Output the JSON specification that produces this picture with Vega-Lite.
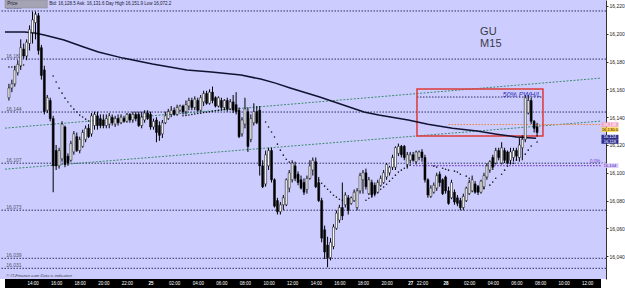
{
 "$schema": "https://vega.github.io/schema/vega-lite/v6.json",
 "width": 606, "height": 279,
 "autosize": {"type": "none"},
 "padding": {"left": 0, "top": 0, "right": 19, "bottom": 9},
 "background": "white",
 "config": {"view": {"fill": "#ccccff", "stroke": null}, "font": "Liberation Sans"},
 "resolve": {"axis": {"x": "independent", "y": "independent"}},
 "datasets": {
  "candles": [
{"i":0,"o":16154,"h":16164,"l":16152,"c":16161},{"i":1,"o":16161,"h":16167,"l":16158,"c":16164},{"i":2,"o":16164,"h":16177,"l":16162,"c":16174},{"i":3,"o":16172,"h":16181,"l":16170,"c":16178},{"i":4,"o":16177,"h":16196,"l":16174,"c":16190},{"i":5,"o":16189,"h":16193,"l":16182,"c":16184},{"i":6,"o":16184,"h":16196,"l":16181,"c":16194},{"i":7,"o":16193,"h":16206,"l":16188,"c":16203},{"i":8,"o":16201,"h":16216,"l":16193,"c":16210},{"i":9,"o":16208,"h":16216,"l":16196,"c":16214},
{"i":10,"o":16213,"h":16215,"l":16185,"c":16188},{"i":11,"o":16190,"h":16192,"l":16167,"c":16170},{"i":12,"o":16174,"h":16177,"l":16142,"c":16144},{"i":13,"o":16145,"h":16156,"l":16143,"c":16154},{"i":14,"o":16152,"h":16154,"l":16137,"c":16139},{"i":15,"o":16139,"h":16141,"l":16086,"c":16105},{"i":16,"o":16116,"h":16120,"l":16102,"c":16105},{"i":17,"o":16105,"h":16118,"l":16103,"c":16116},{"i":18,"o":16110,"h":16137,"l":16108,"c":16135},{"i":19,"o":16133,"h":16134,"l":16104,"c":16106},
{"i":20,"o":16112,"h":16114,"l":16105,"c":16107},{"i":21,"o":16109,"h":16123,"l":16108,"c":16121},{"i":22,"o":16115,"h":16130,"l":16113,"c":16128},{"i":23,"o":16126,"h":16129,"l":16115,"c":16116},{"i":24,"o":16116,"h":16126,"l":16114,"c":16124},{"i":25,"o":16119,"h":16131,"l":16118,"c":16129},{"i":26,"o":16124,"h":16134,"l":16122,"c":16132},{"i":27,"o":16132,"h":16135,"l":16125,"c":16126},{"i":28,"o":16128,"h":16143,"l":16126,"c":16141},{"i":29,"o":16134,"h":16144,"l":16131,"c":16142},
{"i":30,"o":16141,"h":16144,"l":16131,"c":16134},{"i":31,"o":16139,"h":16142,"l":16132,"c":16134},{"i":32,"o":16138,"h":16142,"l":16132,"c":16134},{"i":33,"o":16134,"h":16142,"l":16132,"c":16139},{"i":34,"o":16135,"h":16143,"l":16132,"c":16141},{"i":35,"o":16140,"h":16142,"l":16134,"c":16136},{"i":36,"o":16135,"h":16141,"l":16133,"c":16139},{"i":37,"o":16139,"h":16142,"l":16134,"c":16136},{"i":38,"o":16136,"h":16142,"l":16135,"c":16140},{"i":39,"o":16139,"h":16141,"l":16136,"c":16137},
{"i":40,"o":16137,"h":16143,"l":16136,"c":16142},{"i":41,"o":16142,"h":16143,"l":16136,"c":16138},{"i":42,"o":16138,"h":16144,"l":16136,"c":16142},{"i":43,"o":16142,"h":16144,"l":16137,"c":16139},{"i":44,"o":16142,"h":16144,"l":16133,"c":16134},{"i":45,"o":16134,"h":16144,"l":16132,"c":16140},{"i":46,"o":16138,"h":16145,"l":16136,"c":16143},{"i":47,"o":16143,"h":16145,"l":16138,"c":16139},{"i":48,"o":16142,"h":16144,"l":16131,"c":16133},{"i":49,"o":16133,"h":16139,"l":16131,"c":16137},
{"i":50,"o":16138,"h":16140,"l":16122,"c":16129},{"i":51,"o":16134,"h":16137,"l":16123,"c":16127},{"i":52,"o":16128,"h":16138,"l":16125,"c":16136},{"i":53,"o":16136,"h":16144,"l":16135,"c":16141},{"i":54,"o":16139,"h":16146,"l":16138,"c":16144},{"i":55,"o":16142,"h":16148,"l":16140,"c":16145},{"i":56,"o":16145,"h":16147,"l":16141,"c":16142},{"i":57,"o":16142,"h":16149,"l":16141,"c":16147},{"i":58,"o":16145,"h":16149,"l":16144,"c":16148},{"i":59,"o":16148,"h":16149,"l":16142,"c":16144},
{"i":60,"o":16144,"h":16152,"l":16142,"c":16149},{"i":61,"o":16148,"h":16154,"l":16145,"c":16152},{"i":62,"o":16152,"h":16154,"l":16145,"c":16147},{"i":63,"o":16147,"h":16155,"l":16145,"c":16153},{"i":64,"o":16152,"h":16154,"l":16144,"c":16145},{"i":65,"o":16145,"h":16156,"l":16144,"c":16154},{"i":66,"o":16151,"h":16159,"l":16148,"c":16157},{"i":67,"o":16157,"h":16159,"l":16149,"c":16150},{"i":68,"o":16150,"h":16160,"l":16149,"c":16158},{"i":69,"o":16158,"h":16162,"l":16150,"c":16152},
{"i":70,"o":16154,"h":16155,"l":16147,"c":16148},{"i":71,"o":16148,"h":16155,"l":16147,"c":16154},{"i":72,"o":16152,"h":16154,"l":16145,"c":16147},{"i":73,"o":16147,"h":16153,"l":16145,"c":16152},{"i":74,"o":16152,"h":16154,"l":16144,"c":16146},{"i":75,"o":16146,"h":16153,"l":16145,"c":16151},{"i":76,"o":16151,"h":16156,"l":16143,"c":16145},{"i":77,"o":16149,"h":16158,"l":16142,"c":16144},{"i":78,"o":16145,"h":16147,"l":16125,"c":16126},{"i":79,"o":16128,"h":16140,"l":16126,"c":16138},
{"i":80,"o":16135,"h":16154,"l":16132,"c":16146},{"i":81,"o":16144,"h":16147,"l":16115,"c":16119},{"i":82,"o":16124,"h":16142,"l":16122,"c":16139},{"i":83,"o":16136,"h":16150,"l":16134,"c":16144},{"i":84,"o":16144,"h":16148,"l":16135,"c":16136},{"i":85,"o":16145,"h":16148,"l":16098,"c":16105},{"i":86,"o":16105,"h":16109,"l":16089,"c":16090},{"i":87,"o":16092,"h":16116,"l":16090,"c":16113},{"i":88,"o":16105,"h":16118,"l":16102,"c":16116},{"i":89,"o":16116,"h":16118,"l":16093,"c":16095},
{"i":90,"o":16095,"h":16096,"l":16075,"c":16076},{"i":91,"o":16080,"h":16082,"l":16070,"c":16072},{"i":92,"o":16072,"h":16079,"l":16070,"c":16077},{"i":93,"o":16077,"h":16084,"l":16073,"c":16082},{"i":94,"o":16077,"h":16096,"l":16076,"c":16095},{"i":95,"o":16089,"h":16102,"l":16086,"c":16100},{"i":96,"o":16095,"h":16109,"l":16093,"c":16107},{"i":97,"o":16105,"h":16108,"l":16094,"c":16096},{"i":98,"o":16099,"h":16101,"l":16091,"c":16093},{"i":99,"o":16095,"h":16098,"l":16088,"c":16089},
{"i":100,"o":16093,"h":16096,"l":16084,"c":16086},{"i":101,"o":16088,"h":16098,"l":16085,"c":16096},{"i":102,"o":16096,"h":16109,"l":16095,"c":16105},{"i":103,"o":16102,"h":16111,"l":16098,"c":16109},{"i":104,"o":16108,"h":16111,"l":16089,"c":16090},{"i":105,"o":16093,"h":16097,"l":16079,"c":16080},{"i":106,"o":16080,"h":16082,"l":16050,"c":16053},{"i":107,"o":16059,"h":16062,"l":16038,"c":16043},{"i":108,"o":16048,"h":16054,"l":16032,"c":16039},{"i":109,"o":16039,"h":16053,"l":16037,"c":16050},
{"i":110,"o":16047,"h":16063,"l":16045,"c":16061},{"i":111,"o":16060,"h":16073,"l":16059,"c":16071},{"i":112,"o":16066,"h":16077,"l":16064,"c":16075},{"i":113,"o":16075,"h":16093,"l":16066,"c":16069},{"i":114,"o":16077,"h":16086,"l":16075,"c":16084},{"i":115,"o":16082,"h":16084,"l":16070,"c":16073},{"i":116,"o":16078,"h":16083,"l":16077,"c":16082},{"i":117,"o":16080,"h":16088,"l":16079,"c":16086},{"i":118,"o":16075,"h":16089,"l":16073,"c":16087},{"i":119,"o":16087,"h":16100,"l":16085,"c":16098},
{"i":120,"o":16095,"h":16102,"l":16085,"c":16100},{"i":121,"o":16100,"h":16103,"l":16088,"c":16090},{"i":122,"o":16085,"h":16097,"l":16084,"c":16095},{"i":123,"o":16093,"h":16095,"l":16082,"c":16084},{"i":124,"o":16091,"h":16093,"l":16083,"c":16085},{"i":125,"o":16086,"h":16095,"l":16085,"c":16093},{"i":126,"o":16091,"h":16098,"l":16090,"c":16096},{"i":127,"o":16093,"h":16102,"l":16092,"c":16100},{"i":128,"o":16097,"h":16107,"l":16095,"c":16106},{"i":129,"o":16100,"h":16105,"l":16098,"c":16104},
{"i":130,"o":16104,"h":16113,"l":16102,"c":16111},{"i":131,"o":16104,"h":16119,"l":16102,"c":16118},{"i":132,"o":16114,"h":16121,"l":16112,"c":16119},{"i":133,"o":16119,"h":16120,"l":16111,"c":16113},{"i":134,"o":16119,"h":16120,"l":16109,"c":16111},{"i":135,"o":16106,"h":16115,"l":16103,"c":16113},{"i":136,"o":16109,"h":16115,"l":16107,"c":16113},{"i":137,"o":16113,"h":16115,"l":16108,"c":16109},{"i":138,"o":16108,"h":16116,"l":16106,"c":16115},{"i":139,"o":16111,"h":16116,"l":16109,"c":16115},
{"i":140,"o":16115,"h":16117,"l":16108,"c":16111},{"i":141,"o":16111,"h":16113,"l":16093,"c":16095},{"i":142,"o":16095,"h":16096,"l":16082,"c":16084},{"i":143,"o":16083,"h":16091,"l":16082,"c":16089},{"i":144,"o":16086,"h":16093,"l":16085,"c":16091},{"i":145,"o":16089,"h":16100,"l":16087,"c":16098},{"i":146,"o":16099,"h":16101,"l":16090,"c":16093},{"i":147,"o":16095,"h":16096,"l":16084,"c":16085},{"i":148,"o":16097,"h":16098,"l":16085,"c":16087},{"i":149,"o":16087,"h":16090,"l":16077,"c":16078},
{"i":150,"o":16082,"h":16095,"l":16081,"c":16093},{"i":151,"o":16086,"h":16088,"l":16077,"c":16079},{"i":152,"o":16082,"h":16084,"l":16076,"c":16078},{"i":153,"o":16080,"h":16082,"l":16073,"c":16075},{"i":154,"o":16075,"h":16085,"l":16073,"c":16083},{"i":155,"o":16080,"h":16090,"l":16079,"c":16089},{"i":156,"o":16085,"h":16095,"l":16084,"c":16093},{"i":157,"o":16087,"h":16098,"l":16086,"c":16095},{"i":158,"o":16092,"h":16094,"l":16085,"c":16086},{"i":159,"o":16090,"h":16091,"l":16084,"c":16086},
{"i":160,"o":16086,"h":16095,"l":16085,"c":16094},{"i":161,"o":16090,"h":16100,"l":16088,"c":16098},{"i":162,"o":16097,"h":16107,"l":16095,"c":16105},{"i":163,"o":16102,"h":16109,"l":16100,"c":16108},{"i":164,"o":16111,"h":16113,"l":16102,"c":16104},{"i":165,"o":16107,"h":16118,"l":16106,"c":16116},{"i":166,"o":16116,"h":16118,"l":16109,"c":16111},{"i":167,"o":16107,"h":16122,"l":16106,"c":16118},{"i":168,"o":16116,"h":16118,"l":16107,"c":16109},{"i":169,"o":16115,"h":16116,"l":16106,"c":16107},
{"i":170,"o":16109,"h":16118,"l":16106,"c":16115},{"i":171,"o":16111,"h":16118,"l":16108,"c":16116},{"i":172,"o":16116,"h":16118,"l":16109,"c":16112},{"i":173,"o":16111,"h":16125,"l":16108,"c":16120},{"i":174,"o":16118,"h":16127,"l":16109,"c":16124},{"i":175,"o":16124,"h":16156,"l":16122,"c":16154},{"i":176,"o":16143,"h":16156,"l":16142,"c":16152},{"i":177,"o":16152,"h":16154,"l":16135,"c":16137},{"i":178,"o":16137,"h":16138,"l":16129,"c":16132},{"i":179,"o":16133,"h":16136,"l":16126,"c":16129}
  ],
  "ma": [
{"i":-1.33,"p":16201.3},{"i":5.33,"p":16201.3},{"i":8.67,"p":16200.5},{"i":12,"p":16199.1},{"i":18.67,"p":16195.5},{"i":25.33,"p":16190.5},{"i":30.33,"p":16186.9},{"i":38.67,"p":16182.5},{"i":48.67,"p":16178.2},{"i":60.33,"p":16173.9},{"i":68.67,"p":16172.5},{"i":78.67,"p":16170.3},{"i":85.33,"p":16167.4},{"i":90.33,"p":16164.5},{"i":95.33,"p":16161.0},{"i":105.33,"p":16154.5},{"i":110.33,"p":16150.9},{"i":120.33,"p":16143.7},{"i":125.33,"p":16141.5},{"i":135.33,"p":16137.9},{"i":142,"p":16135.0},{"i":150.33,"p":16132.1},{"i":158.67,"p":16130.0},{"i":165.33,"p":16127.8},{"i":172,"p":16125.7},{"i":178.67,"p":16124.9}
  ],
  "sar": [
{"i":0,"s":16176.1},{"i":1,"s":16176.1},{"i":2,"s":16176.1},{"i":3,"s":16176.8},{"i":4,"s":16176.8},{"i":5,"s":16177.5},
{"i":15,"s":16169.6},{"i":16,"s":16165.3},{"i":17,"s":16160.9},{"i":18,"s":16157.3},{"i":19,"s":16153.7},{"i":20,"s":16150.9},{"i":21,"s":16148.0},{"i":22,"s":16145.8},{"i":23,"s":16143.7},{"i":24,"s":16141.5},{"i":25,"s":16140.1},{"i":26,"s":16138.6},{"i":27,"s":16137.2},{"i":28,"s":16136.5},{"i":29,"s":16135.7},
{"i":31,"s":16135.0},{"i":32,"s":16135.7},{"i":33,"s":16135.7},{"i":34,"s":16136.5},{"i":35,"s":16136.5},{"i":36,"s":16137.2},{"i":37,"s":16137.9},{"i":38,"s":16137.9},{"i":39,"s":16138.6},{"i":40,"s":16138.6},{"i":41,"s":16139.3},{"i":42,"s":16139.3},{"i":43,"s":16140.1},
{"i":59,"s":16141.0},{"i":60,"s":16141.3},{"i":61,"s":16141.6},{"i":62,"s":16141.9},{"i":63,"s":16142.3},{"i":64,"s":16142.6},{"i":65,"s":16142.9},{"i":66,"s":16143.3},{"i":67,"s":16143.6},{"i":68,"s":16143.9},{"i":69,"s":16144.2},{"i":70,"s":16144.6},{"i":71,"s":16144.9},{"i":72,"s":16145.2},{"i":73,"s":16145.5},{"i":74,"s":16145.9},{"i":75,"s":16146.2},{"i":76,"s":16146.5},
{"i":87,"s":16136.5},{"i":88,"s":16132.9},{"i":89,"s":16129.3},{"i":90,"s":16125.7},{"i":91,"s":16120.6},{"i":92,"s":16116.3},{"i":93,"s":16112.7},{"i":94,"s":16109.8},{"i":95,"s":16107.7},
{"i":105,"s":16094.7},{"i":106,"s":16092.5},{"i":107,"s":16090.4},{"i":108,"s":16088.2},{"i":109,"s":16086.1},{"i":110,"s":16083.9},{"i":111,"s":16082.5},{"i":112,"s":16081.0},{"i":113,"s":16080.3},
{"i":121,"s":16080.3},{"i":122,"s":16081.7},{"i":123,"s":16083.2},{"i":124,"s":16084.6},{"i":125,"s":16086.1},{"i":126,"s":16088.2},{"i":127,"s":16089.7},{"i":128,"s":16091.8},{"i":129,"s":16094.0},{"i":130,"s":16096.1},{"i":131,"s":16098.3},{"i":132,"s":16100.5},{"i":133,"s":16101.9},{"i":134,"s":16103.3},{"i":135,"s":16104.8},{"i":136,"s":16105.5},
{"i":144,"s":16104.8},{"i":145,"s":16104.1},{"i":147,"s":16103.3},{"i":148,"s":16102.6},{"i":149,"s":16101.9},{"i":151,"s":16101.2},{"i":152,"s":16100.5},{"i":153,"s":16099.0},{"i":155,"s":16097.6},{"i":156,"s":16096.1},{"i":157,"s":16093.3},{"i":159,"s":16090.4},
{"i":160,"s":16087.5},{"i":161,"s":16088.9},{"i":163,"s":16091.1},{"i":164,"s":16093.3},{"i":165,"s":16096.1},{"i":167,"s":16099.0},{"i":168,"s":16101.9},{"i":169,"s":16104.8},{"i":171,"s":16106.9},{"i":172,"s":16109.1},{"i":173,"s":16111.3},{"i":175,"s":16113.4},{"i":176,"s":16116.3},{"i":177,"s":16119.2},{"i":179,"s":16122.1}
  ],
  "pivots": [
{"p":16216.4,"t":"16,216"},{"p":16181.8,"t":"16,182"},{"p":16143.7,"t":"16,144"},{"p":16106.9,"t":"16,107"},{"p":16073.1,"t":"16,073"},{"p":16038.5,"t":"16,039"},{"p":16031.3,"t":"16,031"}
  ],
  "tags": [
{"i":203.7,"p":16134.7,"t":"16,138","k":"a"},{"i":203.7,"p":16131.1,"t":"16,130.0","k":"b"},{"i":203.7,"p":16125.7,"t":"16,124","k":"c"},{"i":203.7,"p":16122.5,"t":"16,118","k":"c"},{"i":203.7,"p":16105.2,"t":"16,104","k":"d"}
  ]
 },
 "layer": [
  {"data": {"name": "pivots"}, "mark": {"type": "rule", "color": "#2e2e60", "strokeDash": [1.5, 1.5], "strokeWidth": 1},
   "encoding": {"y": {"field": "p", "type": "quantitative", "scale": {"domain": [16023.6, 16224.3], "nice": false, "zero": false}, "axis": null}}},
  {"data": {"name": "pivots"}, "mark": {"type": "text", "align": "left", "baseline": "bottom", "fontSize": 5, "color": "#555566", "dy": -0.5},
   "encoding": {"x": {"datum": -0.9, "type": "quantitative", "scale": {"domain": [-1.33, 200.67], "nice": false, "zero": false}, "axis": null},
    "y": {"field": "p", "type": "quantitative", "scale": {"domain": [16023.6, 16224.3], "nice": false, "zero": false}, "axis": null},
    "text": {"field": "t"}}},
  {"data": {"values": [{"i": -1.33, "i2": 200.67, "p": 16132.1, "p2": 16168.1}, {"i": -1.33, "i2": 200.67, "p": 16102.6, "p2": 16137.2}]},
   "mark": {"type": "rule", "color": "#3c8c6c", "strokeDash": [2, 1.5], "strokeWidth": 1},
   "encoding": {"x": {"field": "i", "type": "quantitative", "scale": {"domain": [-1.33, 200.67], "nice": false, "zero": false}, "axis": null}, "x2": {"field": "i2"},
    "y": {"field": "p", "type": "quantitative", "scale": {"domain": [16023.6, 16224.3], "nice": false, "zero": false}, "axis": null}, "y2": {"field": "p2"}}},
  {"data": {"values": [{"i": 137, "i2": 200.67, "p": 16105.2}]},
   "mark": {"type": "rule", "color": "#7a3cc8", "strokeDash": [1.5, 1.5], "strokeWidth": 1.2},
   "encoding": {"x": {"field": "i", "type": "quantitative", "scale": {"domain": [-1.33, 200.67], "nice": false, "zero": false}, "axis": null}, "x2": {"field": "i2"},
    "y": {"field": "p", "type": "quantitative", "scale": {"domain": [16023.6, 16224.3], "nice": false, "zero": false}, "axis": null}}},
  {"data": {"values": [{"i": 149, "i2": 200.67, "p": 16134.7}]},
   "mark": {"type": "rule", "color": "#f08030", "strokeDash": [1.5, 1.5], "strokeWidth": 1},
   "encoding": {"x": {"field": "i", "type": "quantitative", "scale": {"domain": [-1.33, 200.67], "nice": false, "zero": false}, "axis": null}, "x2": {"field": "i2"},
    "y": {"field": "p", "type": "quantitative", "scale": {"domain": [16023.6, 16224.3], "nice": false, "zero": false}, "axis": null}}},
  {"data": {"values": [{"i": 138.3, "i2": 181, "p": 16154.5}]},
   "mark": {"type": "rule", "color": "#2e2e60", "strokeDash": [1.5, 1.5], "strokeWidth": 1},
   "encoding": {"x": {"field": "i", "type": "quantitative", "scale": {"domain": [-1.33, 200.67], "nice": false, "zero": false}, "axis": null}, "x2": {"field": "i2"},
    "y": {"field": "p", "type": "quantitative", "scale": {"domain": [16023.6, 16224.3], "nice": false, "zero": false}, "axis": null}}},
  {"data": {"values": [{"i": 138.3, "i2": 181, "p": 16160.2, "p2": 16126.4}]},
   "mark": {"type": "rect", "fill": null, "fillOpacity": 0, "stroke": "#dd3a3a", "strokeWidth": 1.5},
   "encoding": {"x": {"field": "i", "type": "quantitative", "scale": {"domain": [-1.33, 200.67], "nice": false, "zero": false}, "axis": null}, "x2": {"field": "i2"},
    "y": {"field": "p", "type": "quantitative", "scale": {"domain": [16023.6, 16224.3], "nice": false, "zero": false}, "axis": null}, "y2": {"field": "p2"}}},
  {"data": {"name": "ma"}, "mark": {"type": "line", "color": "#121230", "strokeWidth": 1.5},
   "encoding": {"x": {"field": "i", "type": "quantitative", "scale": {"domain": [-1.33, 200.67], "nice": false, "zero": false}, "axis": null},
    "y": {"field": "p", "type": "quantitative", "scale": {"domain": [16023.6, 16224.3], "nice": false, "zero": false}, "axis": null}}},
  {"data": {"name": "sar"}, "mark": {"type": "point", "filled": true, "size": 2.5, "color": "#111111", "opacity": 1},
   "encoding": {"x": {"field": "i", "type": "quantitative", "scale": {"domain": [-1.33, 200.67], "nice": false, "zero": false}, "axis": null},
    "y": {"field": "s", "type": "quantitative", "scale": {"domain": [16023.6, 16224.3], "nice": false, "zero": false}, "axis": null}}},
  {"data": {"values": [{"i": -1.33, "i2": 200.67, "p": 16023.6, "p2": 16017.1}]},
   "mark": {"type": "rect", "fill": "#000000"},
   "encoding": {"x": {"field": "i", "type": "quantitative", "scale": {"domain": [-1.33, 200.67], "nice": false, "zero": false}, "axis": null}, "x2": {"field": "i2"},
    "y": {"field": "p", "type": "quantitative", "scale": {"domain": [16023.6, 16224.3], "nice": false, "zero": false}, "axis": null}, "y2": {"field": "p2"}}},
  {"data": {"name": "candles"}, "mark": {"type": "rule", "color": "#000000", "strokeWidth": 1},
   "encoding": {
    "x": {"field": "i", "type": "quantitative", "scale": {"domain": [-1.33, 200.67], "nice": false, "zero": false},
     "axis": {"title": null, "grid": false, "zindex": 2, "values": [8,16,24,32,40,48,56,64,72,80,88,96,104,112,120,128,136,140,148,156,164,172,180,188,196],
      "labelExpr": "{'8':'14:00','16':'16:00','24':'18:00','32':'20:00','40':'22:00','48':'25','56':'02:00','64':'04:00','72':'06:00','80':'08:00','88':'10:00','96':'12:00','104':'14:00','112':'16:00','120':'18:00','128':'20:00','136':'27','140':'22:00','148':'28','156':'02:00','164':'04:00','172':'06:00','180':'08:00','188':'10:00','196':'12:00'}[datum.value]",
      "labelColor": "#ffffff", "labelFontSize": 4.5, "ticks": false, "tickSize": 0, "domain": false, "labelPadding": 4.5, "labelBaseline": "middle", "labelOverlap": false, "labelFlush": false,
      "labelFontWeight": {"condition": {"test": "datum.value == 48 || datum.value == 136 || datum.value == 148", "value": "bold"}, "value": "normal"}}},
    "y": {"field": "l", "type": "quantitative", "scale": {"domain": [16023.6, 16224.3], "nice": false, "zero": false},
     "axis": {"title": null, "orient": "right", "grid": false, "values": [16040,16060,16080,16100,16120,16140,16160,16180,16200,16220], "format": ",d",
      "labelFontSize": 5, "labelColor": "#222222", "tickSize": 2, "tickColor": "#333333", "domainColor": "#333333", "domainWidth": 1, "labelPadding": 1}},
    "y2": {"field": "h"}}},
  {"data": {"name": "candles"}, "mark": {"type": "bar", "width": 2, "stroke": "#000000", "strokeWidth": 0.5},
   "encoding": {"x": {"field": "i", "type": "quantitative", "scale": {"domain": [-1.33, 200.67], "nice": false, "zero": false}, "axis": null},
    "y": {"field": "o", "type": "quantitative", "scale": {"domain": [16023.6, 16224.3], "nice": false, "zero": false}, "axis": null}, "y2": {"field": "c"},
    "fill": {"condition": {"test": "datum.c < datum.o", "value": "#000000"}, "value": "#ffffff"}}},
  {"data": {"values": [{"i": 159.7, "p": 16199.1, "t": "GU"}, {"i": 159.7, "p": 16190.2, "t": "M15"}]},
   "mark": {"type": "text", "align": "left", "baseline": "alphabetic", "fontSize": 11, "color": "#3a3a4a"},
   "encoding": {"x": {"field": "i", "type": "quantitative", "scale": {"domain": [-1.33, 200.67], "nice": false, "zero": false}, "axis": null},
    "y": {"field": "p", "type": "quantitative", "scale": {"domain": [16023.6, 16224.3], "nice": false, "zero": false}, "axis": null}, "text": {"field": "t"}}},
  {"data": {"values": [{"i": 180.3, "p": 16154.7, "t": "50% PWH/L"}]},
   "mark": {"type": "text", "align": "right", "baseline": "alphabetic", "fontSize": 7, "fontStyle": "italic", "color": "#2a2ab0"},
   "encoding": {"x": {"field": "i", "type": "quantitative", "scale": {"domain": [-1.33, 200.67], "nice": false, "zero": false}, "axis": null},
    "y": {"field": "p", "type": "quantitative", "scale": {"domain": [16023.6, 16224.3], "nice": false, "zero": false}, "axis": null}, "text": {"field": "t"}}},
  {"data": {"values": [{"i": 200.4, "p": 16106.2, "t": "0.0%"}]},
   "mark": {"type": "text", "align": "right", "baseline": "bottom", "fontSize": 4.5, "color": "#7a3cc8"},
   "encoding": {"x": {"field": "i", "type": "quantitative", "scale": {"domain": [-1.33, 200.67], "nice": false, "zero": false}, "axis": null},
    "y": {"field": "p", "type": "quantitative", "scale": {"domain": [16023.6, 16224.3], "nice": false, "zero": false}, "axis": null}, "text": {"field": "t"}}},
  {"data": {"values": [{"i": -1.33, "i2": 13, "p": 16224.3, "p2": 16218.5}]},
   "mark": {"type": "rect", "fill": "#a4a4b4", "stroke": "#808090", "strokeWidth": 0.5},
   "encoding": {"x": {"field": "i", "type": "quantitative", "scale": {"domain": [-1.33, 200.67], "nice": false, "zero": false}, "axis": null}, "x2": {"field": "i2"},
    "y": {"field": "p", "type": "quantitative", "scale": {"domain": [16023.6, 16224.3], "nice": false, "zero": false}, "axis": null}, "y2": {"field": "p2"}}},
  {"data": {"values": [{"i": -0.6, "p": 16221.4, "t": "Price"}, {"i": 13.7, "p": 16221.4, "t": "Bid: 16,128.5 Ask: 16,131.6 Day High 16,151.9 Low 16,072.2"}]},
   "mark": {"type": "text", "align": "left", "baseline": "middle", "fontSize": 4.5, "color": "#202030"},
   "encoding": {"x": {"field": "i", "type": "quantitative", "scale": {"domain": [-1.33, 200.67], "nice": false, "zero": false}, "axis": null},
    "y": {"field": "p", "type": "quantitative", "scale": {"domain": [16023.6, 16224.3], "nice": false, "zero": false}, "axis": null}, "text": {"field": "t"}}},
  {"data": {"values": [{"i": -0.9, "p": 16025.4, "t": "© IT-Finance.com   Data is indicative"}]},
   "mark": {"type": "text", "align": "left", "baseline": "middle", "fontSize": 4.2, "fontStyle": "italic", "color": "#404050"},
   "encoding": {"x": {"field": "i", "type": "quantitative", "scale": {"domain": [-1.33, 200.67], "nice": false, "zero": false}, "axis": null},
    "y": {"field": "p", "type": "quantitative", "scale": {"domain": [16023.6, 16224.3], "nice": false, "zero": false}, "axis": null}, "text": {"field": "t"}}},
  {"data": {"name": "tags"}, "mark": {"type": "tick", "orient": "horizontal", "size": 17, "thickness": 4.5, "opacity": 1},
   "encoding": {"x": {"field": "i", "type": "quantitative", "scale": {"domain": [-1.33, 200.67], "nice": false, "zero": false}, "axis": null},
    "y": {"field": "p", "type": "quantitative", "scale": {"domain": [16023.6, 16224.3], "nice": false, "zero": false}, "axis": null},
    "color": {"field": "k", "type": "nominal", "scale": {"domain": ["a", "b", "c", "d"], "range": ["#f2a4c4", "#ffd24a", "#2c2c8c", "#d8c8ff"]}, "legend": null}}},
  {"data": {"name": "tags"}, "mark": {"type": "text", "align": "center", "baseline": "middle", "fontSize": 4.2},
   "encoding": {"x": {"field": "i", "type": "quantitative", "scale": {"domain": [-1.33, 200.67], "nice": false, "zero": false}, "axis": null},
    "y": {"field": "p", "type": "quantitative", "scale": {"domain": [16023.6, 16224.3], "nice": false, "zero": false}, "axis": null},
    "fill": {"field": "k", "type": "nominal", "scale": {"domain": ["a", "b", "c", "d"], "range": ["#ffffff", "#202020", "#ffffff", "#5020a0"]}, "legend": null},
    "text": {"field": "t"}}}
 ]
}
